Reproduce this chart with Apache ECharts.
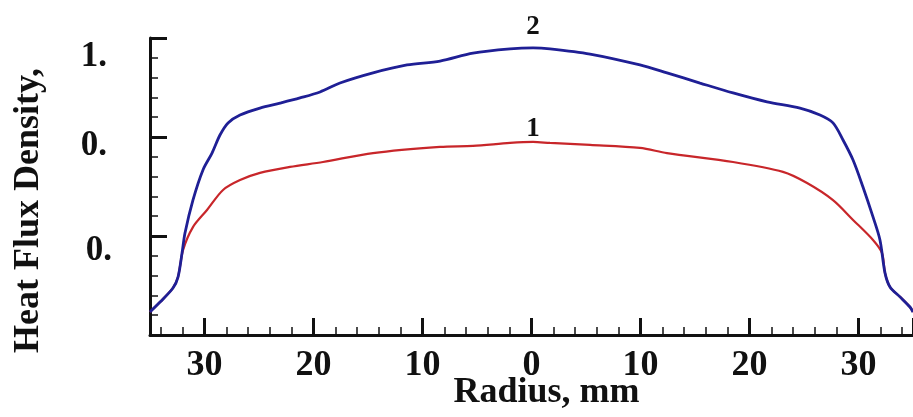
<!DOCTYPE html>
<html>
<head>
<meta charset="utf-8">
<script src="https://cdn.jsdelivr.net/npm/echarts@6/dist/echarts.min.js"></script>
<style>
  html, body { margin: 0; padding: 0; background: #fff; }
  #chart { width: 913px; height: 417px; }
</style>
</head>
<body>
<div id="chart"></div>
<script>
// Radial heat flux density profiles (radius in mm, negative = left side)
const radius2 = [-35, -34.08, -32.89, -32.43, -32.06, -31.79, -31.06, -30.14, -29.31, -28.58, -27.84, -26.74, -24.91, -23.07, -21.24, -19.4, -17.57, -14.54, -11.42, -8.39, -5.37, -1.97, 0.14, 1.7, 5.37, 9.95, 12.43, 15.46, 18.49, 21.61, 24.63, 26.47, 27.66, 28.58, 29.5, 30.41, 31.33, 31.97, 32.43, 32.89, 33.81, 34.72, 35];
const flux2 = [0.093, 0.133, 0.190, 0.234, 0.331, 0.412, 0.545, 0.667, 0.735, 0.808, 0.857, 0.889, 0.917, 0.937, 0.958, 0.982, 1.018, 1.059, 1.091, 1.107, 1.139, 1.156, 1.160, 1.156, 1.135, 1.091, 1.059, 1.018, 0.978, 0.942, 0.917, 0.889, 0.857, 0.788, 0.707, 0.598, 0.477, 0.384, 0.251, 0.194, 0.154, 0.113, 0.093];

const radius1 = [-35, -34.08, -32.89, -32.43, -31.97, -31.06, -29.77, -28.3, -26.74, -24.91, -22.16, -19.13, -14.54, -8.39, -5.37, -1.97, 0.14, 1.7, 5.37, 9.95, 12.43, 18.49, 23.07, 25.28, 27.66, 29.5, 31.33, 32.16, 32.43, 32.89, 33.81, 34.72, 35];
const flux1 = [0.093, 0.133, 0.190, 0.234, 0.343, 0.436, 0.505, 0.586, 0.626, 0.655, 0.679, 0.699, 0.735, 0.760, 0.764, 0.776, 0.780, 0.776, 0.768, 0.756, 0.735, 0.699, 0.659, 0.614, 0.545, 0.465, 0.384, 0.331, 0.251, 0.194, 0.154, 0.113, 0.093];

// Curve tags placed over each peak
const curveTags = { '1': 0.14, '2': 0.14 };

// Truncated tick captions on the vertical axis
const yTickText = { '1.2': '1.', '0.8': '0.', '0.4': '0.' };

const xTitle = 'Radius, mm';
const yTitle = 'Heat Flux Density,';

const ink = '#111';
const serif = 'Liberation Serif';

function pairs(xs, ys, tag) {
  return xs.map((x, i) => {
    if (x === curveTags[tag]) {
      return { value: [x, ys[i]], label: { show: true, formatter: tag } };
    }
    return [x, ys[i]];
  });
}

const chart = echarts.init(document.getElementById('chart'), null, { renderer: 'canvas' });

chart.setOption({
  animation: false,
  backgroundColor: '#fff',
  grid: { left: 150, right: 0, top: 38, bottom: 82, containLabel: false, outerBoundsMode: 'none' },
  xAxis: {
    type: 'value',
    min: -35,
    max: 35,
    splitNumber: 7,
    name: xTitle,
    nameLocation: 'middle',
    nameGap: 40,
    nameMoveOverlap: false,
    nameTextStyle: { fontFamily: serif, fontWeight: 'bold', fontSize: 36, color: ink, padding: [0, 0, 0, 30] },
    axisLine: { show: true, onZero: false, lineStyle: { color: ink, width: 3 } },
    axisTick: { show: true, inside: true, length: 17, lineStyle: { color: ink, width: 3 } },
    minorTick: { show: true, splitNumber: 5, length: 8, lineStyle: { color: ink, width: 1.5 } },
    splitLine: { show: false },
    axisLabel: {
      showMinLabel: false,
      showMaxLabel: false,
      margin: 13,
      fontFamily: serif, fontWeight: 'bold', fontSize: 36, color: ink,
      formatter: v => String(Math.abs(v))
    }
  },
  yAxis: {
    type: 'value',
    min: 0,
    max: 1.2,
    interval: 0.4,
    name: yTitle,
    nameLocation: 'middle',
    nameGap: 103,
    nameRotate: 90,
    nameTextStyle: { fontFamily: serif, fontWeight: 'bold', fontSize: 36, color: ink, padding: [0, 48, 0, 0] },
    axisLine: { show: true, onZero: false, lineStyle: { color: ink, width: 3 } },
    axisTick: { show: true, inside: true, length: 17, lineStyle: { color: ink, width: 3 } },
    minorTick: { show: true, splitNumber: 5, length: 8, lineStyle: { color: ink, width: 1.5 } },
    splitLine: { show: false },
    axisLabel: {
      margin: 38,
      fontFamily: serif, fontWeight: 'bold', fontSize: 35, color: ink,
      formatter: v => {
        const key = (Math.round(v * 10) / 10).toFixed(1);
        const t = yTickText[key];
        if (!t) return '';
        if (key === '1.2') return '{a|' + t + '}';
        if (key === '0.8') return '{b|' + t + '}';
        return '{c|' + t + '}';
      },
      rich: {
        a: { fontFamily: serif, fontWeight: 'bold', fontSize: 35, color: ink, padding: [38, 5, 0, 0] },
        b: { fontFamily: serif, fontWeight: 'bold', fontSize: 35, color: ink, padding: [18, 5, 0, 0] },
        c: { fontFamily: serif, fontWeight: 'bold', fontSize: 35, color: ink, padding: [30, 0, 0, 0] }
      }
    }
  },
  series: [
    {
      name: '1',
      type: 'line',
      data: pairs(radius1, flux1, '1'),
      smooth: 0.3,
      symbol: 'circle',
      symbolSize: 0,
      showSymbol: true,
      z: 2,
      lineStyle: { color: '#c8262a', width: 2.2 },
      label: { position: 'top', distance: -1, fontFamily: serif, fontWeight: 'bold', fontSize: 27, color: ink }
    },
    {
      name: '2',
      type: 'line',
      data: pairs(radius2, flux2, '2'),
      smooth: 0.3,
      symbol: 'circle',
      symbolSize: 0,
      showSymbol: true,
      z: 3,
      lineStyle: { color: '#1f1f95', width: 2.8 },
      label: { position: 'top', distance: 7, fontFamily: serif, fontWeight: 'bold', fontSize: 27, color: ink }
    }
  ]
});
</script>
</body>
</html>
